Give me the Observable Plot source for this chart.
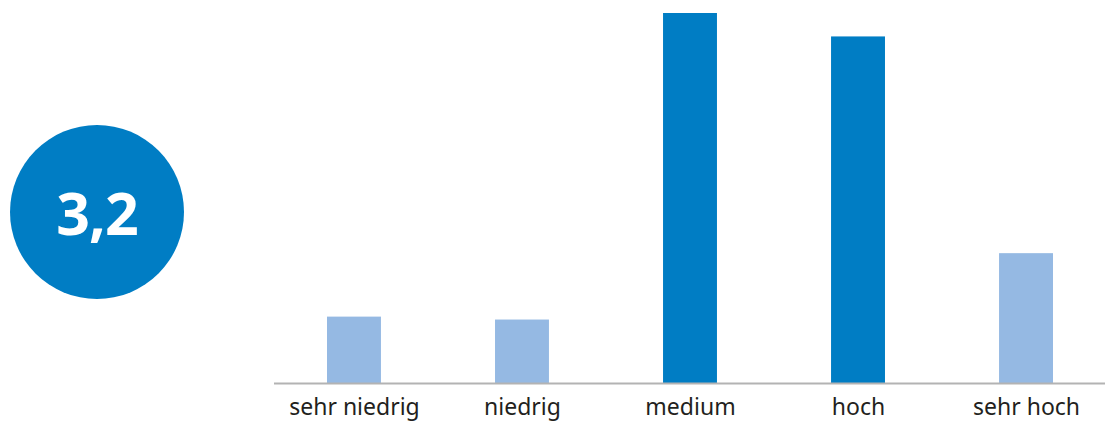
<!DOCTYPE html>
<html>
<head>
<meta charset="utf-8">
<script src="https://cdn.jsdelivr.net/npm/d3@7"></script>
<script src="https://cdn.jsdelivr.net/npm/@observablehq/plot@0.6"></script>
<style>
  html, body { margin: 0; padding: 0; background: #fff; }
  #wrap { position: relative; width: 1105px; height: 421px; }
  #badge {
    position: absolute; left: 10px; top: 125px; width: 174px; height: 174px;
    border-radius: 50%; background: #007dc4; color: #fff;
    font-family: "Open Sans", sans-serif; font-weight: 700; font-size: 59px;
    display: flex; align-items: center; justify-content: center; letter-spacing: -1px;
  }
  #chart { position: absolute; left: 0; top: 0; }
</style>
</head>
<body>
<div id="wrap">
  <div id="badge">3,2</div>
  <div id="chart"></div>
</div>
<script>
// Share of responses per level (percent)
const levels = ["sehr niedrig", "niedrig", "medium", "hoch", "sehr hoch"];
const shares = [6.8, 6.5, 37.9, 35.5, 13.3];
const highlighted = [false, false, true, true, false];
const meanScore = "3,2";

const data = levels.map((level, i) => ({level, share: shares[i], hi: highlighted[i]}));
document.getElementById("badge").textContent = meanScore;

const chart = Plot.plot({
  width: 1105,
  height: 421,
  marginLeft: 274,
  marginRight: 0,
  marginTop: 13,
  marginBottom: 38,
  style: {fontFamily: "'Noto Sans', sans-serif", fontSize: "23px", color: "#231f20", background: "transparent"},
  x: {domain: levels, range: [274, 1106], round: false, paddingInner: 0.679, paddingOuter: 0.3155, label: null, tickSize: 0, tickPadding: 15},
  y: {domain: [0, 37.9], axis: null},
  marks: [
    Plot.barY(data, {x: "level", y: "share", fill: d => d.hi ? "#007dc4" : "#95b9e3"}),
    Plot.ruleY([0], {stroke: "#b3b3b3", strokeWidth: 2})
  ]
});
document.getElementById("chart").append(chart);
</script>
</body>
</html>
